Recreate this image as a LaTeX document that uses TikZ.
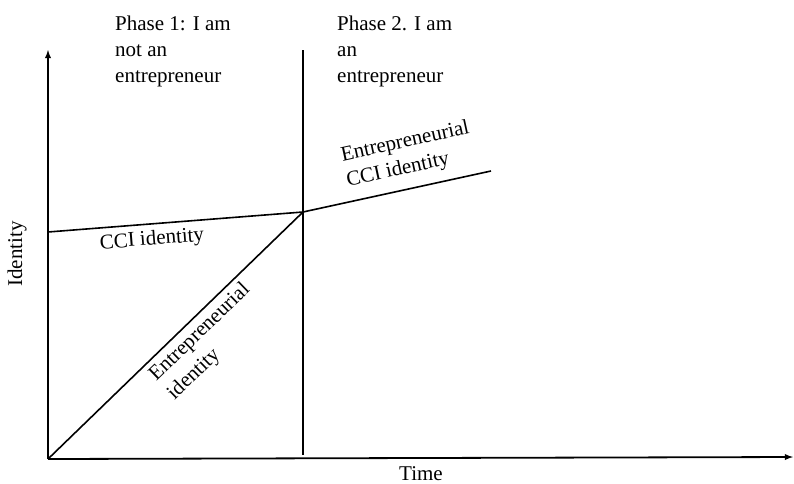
\documentclass[tikz,border=0pt]{standalone}
\usepackage{fontspec}
\setmainfont{Liberation Serif}
\usetikzlibrary{arrows}

\begin{document}
\begin{tikzpicture}[x=1pt, y=-1pt]
\tikzset{axis/.style = {->,> = latex, line width=1.8pt}}
\tikzset{trend/.style = {line width=1.6pt}}
\tikzset{txt/.style = {inner sep=0pt, font=\fontsize{21}{26}\selectfont}}
\useasboundingbox (0,0) rectangle (794,483);

\coordinate (origin) at (48, 459);
\coordinate (ytop) at (48, 50);
\coordinate (xend) at (793, 457);
\coordinate (switch) at (303, 212);
\coordinate (ccistart) at (48, 232);
\coordinate (ecciend) at (491, 171);
\coordinate (phasetop) at (303, 50);
\coordinate (phasebottom) at (303, 455);

\draw[axis] (origin) -- (ytop);
\draw[axis] (origin) -- (xend);
\draw[line width=2.6pt] (phasetop) -- (phasebottom);
\draw[trend] (ccistart) -- (switch);
\draw[trend] (origin) -- (switch);
\draw[trend] (switch) -- (ecciend);

\node[txt, anchor=north west, align=left] (phaseone) at (115, 16) {Phase 1: I am\\not an\\entrepreneur};
\node[txt, anchor=north west, align=left] (phasetwo) at (337, 16) {Phase 2. I am\\an\\entrepreneur};
\node[txt, rotate=90] (identity) at (17, 254) {Identity};
\node[txt, anchor=base] (time) at (421, 480) {Time};
\node[txt, rotate=4.5] (cci) at (152, 240) {CCI identity};
\node[txt, rotate=44, align=left] (entid) at (209, 342) {Entrepreneurial\\identity};
\node[txt, rotate=12.3, align=left] (ecci) at (408, 155) {Entrepreneurial\\CCI identity};

\end{tikzpicture}
\end{document}
